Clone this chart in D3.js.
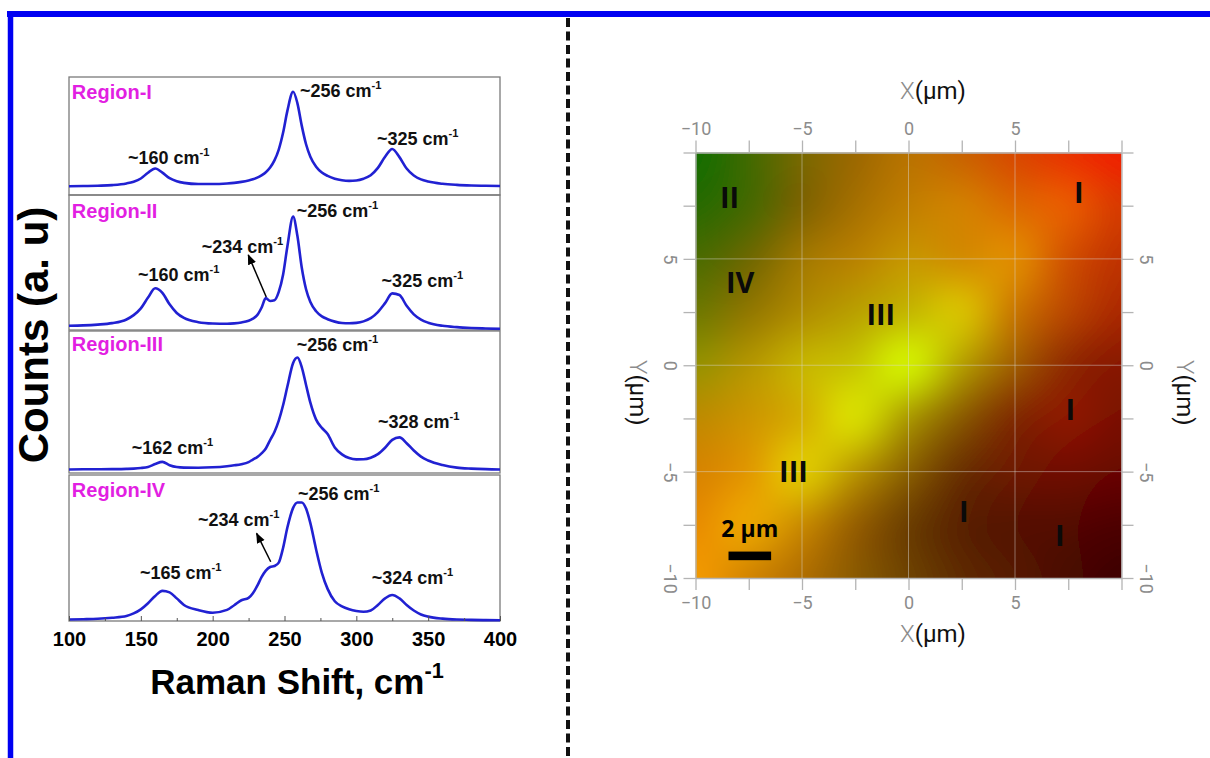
<!DOCTYPE html>
<html>
<head>
<meta charset="utf-8">
<script src="https://cdn.jsdelivr.net/npm/d3@7"></script>
<style>
  body { margin: 0; background: #fff; }
  svg { display: block; }
</style>
</head>
<body>
<svg id="fig" width="1210" height="758"></svg>
<script>
// ---- spectra data (Raman shift in cm-1, counts in a.u. scaled to each panel) ----
const shift = [100,110,120,130,140,145,150,155,160,165,170,175,180,190,200,210,215,220,225,228,231,234,237,240,243,246,249,252,256,259,262,265,268,272,276,280,285,290,295,300,305,310,315,320,325,330,335,340,345,350,360,370,380,390,400]

const countsI = [.074,.076,.079,.084,.098,.113,.140,.189,.225,.190,.143,.117,.103,.093,.093,.098,.103,.111,.123,.133,.147,.167,.193,.233,.293,.385,.527,.713,.875,.777,.588,.430,.324,.239,.190,.162,.138,.125,.120,.123,.138,.168,.230,.324,.390,.321,.224,.165,.132,.114,.095,.086,.081,.078,.076]
const countsII = [.032,.034,.040,.051,.078,.110,.160,.240,.309,.275,.190,.126,.089,.058,.048,.046,.049,.056,.069,.084,.110,.165,.236,.215,.220,.282,.409,.619,.840,.696,.463,.302,.208,.139,.101,.080,.062,.052,.050,.053,.064,.088,.133,.199,.271,.259,.179,.116,.077,.054,.031,.021,.015,.011,.008]
const countsIII = [.025,.026,.026,.027,.029,.031,.035,.043,.063,.078,.055,.042,.038,.037,.040,.048,.054,.062,.077,.095,.112,.138,.173,.232,.289,.369,.477,.609,.775,.813,.746,.620,.495,.376,.318,.275,.180,.131,.105,.096,.097,.108,.133,.178,.233,.251,.210,.158,.115,.088,.056,.038,.031,.027,.025]
const countsIV = [.010,.012,.015,.022,.034,.052,.080,.122,.172,.206,.196,.155,.110,.075,.057,.076,.108,.142,.158,.190,.240,.300,.345,.370,.377,.400,.500,.640,.775,.812,.812,.770,.670,.490,.330,.220,.135,.100,.080,.068,.063,.072,.110,.155,.178,.155,.110,.072,.045,.030,.016,.010,.008,.006,.005]

const regionNames = ["Region-I", "Region-II", "Region-III", "Region-IV"]
const peakNames = [[256, 160, 325], [256, 234, 160, 325], [256, 328, 162], [256, 234, 165, 324]]
const shiftTicks = [100, 150, 200, 250, 300, 350, 400]
const shiftMinor = [125, 175, 225, 275, 325, 375]

// ---- map data (RGB composite, rows y = 10 .. -10, cols x = -10 .. 10, step 2.5 um) ----
const mapX = [-10, -7.5, -5, -2.5, 0, 2.5, 5, 7.5, 10]
const mapY = [10, 7.5, 5, 2.5, 0, -2.5, -5, -7.5, -10]
const mapRed = [
  [20, 65, 120, 155, 184, 200, 216, 232, 240],
  [40, 70, 125, 165, 192, 210, 220, 232, 216],
  [75, 110, 160, 184, 198, 210, 224, 208, 192],
  [110, 145, 175, 185, 196, 216, 200, 185, 170],
  [150, 180, 198, 200, 210, 180, 160, 144, 136],
  [190, 205, 212, 216, 170, 138, 128, 140, 122],
  [215, 225, 224, 185, 138, 106, 110, 112, 104],
  [232, 234, 200, 150, 108, 90, 86, 84, 78],
  [243, 210, 176, 138, 110, 94, 86, 74, 62]
]
const mapGreen = [
  [110, 106, 104, 104, 114, 98, 72, 50, 32],
  [106, 104, 100, 112, 126, 128, 105, 90, 56],
  [108, 104, 120, 130, 150, 140, 138, 80, 50],
  [120, 120, 140, 160, 182, 192, 118, 70, 40],
  [145, 150, 180, 198, 238, 158, 92, 42, 24],
  [138, 150, 175, 220, 152, 90, 42, 24, 16],
  [132, 152, 200, 150, 96, 48, 26, 12, 6],
  [140, 165, 138, 95, 62, 34, 18, 8, 2],
  [154, 132, 110, 90, 66, 42, 26, 10, 0]
]
const mapTicks = [-10, -7.5, -5, -2.5, 0, 2.5, 5, 7.5, 10]
const mapLabelled = [-10, -5, 0, 5]
const mapGrid = [-5, 0, 5]
const zoneNames = ["II", "I", "IV", "III", "I", "III", "I", "I"]
const scaleBarLength = 2

// ---- layout ----
const W = 1210, H = 758
const specLeft = 69, specRight = 500
const panelTop = [77, 195, 331, 475]
const panelBottom = [195, 330, 473, 621]
// label anchors in data units [shift, fraction of panel]
const regionAt = [[102, .81], [102, .827], [102, .859], [102, .849]]
const peakAt = [
  [[260.8, .833], [141, .263], [314.4, .424]],
  [[258.5, .839], [192.4, .573], [148, .365], [317.6, .321]],
  [[258.5, .861], [315, .317], [143.6, .134]],
  [[259.4, .829], [189.8, .651], [149.4, .288], [310.7, .253]]
]
const arrowAt = [null, [[237.3, .244], [224.8, .556]], null, [[240.4, .406], [230.6, .60]]]
const zoneAt = [[-8.4, 7.9], [8.0, 8.1], [-7.9, 3.9], [-1.3, 2.4], [7.6, -2.1], [-5.4, -5.0], [2.6, -6.9], [7.1, -8.0]]

const svg = d3.select("#fig")
const defs = svg.append("defs")
const boldFont = "'Liberation Sans', Arial, sans-serif"

// blue frame and dashed divider
svg.append("line").attr("x1", 7).attr("x2", W).attr("y1", 14).attr("y2", 14)
  .attr("stroke", "#0000f2").attr("stroke-width", 6)
svg.append("line").attr("x1", 10.5).attr("x2", 10.5).attr("y1", 11).attr("y2", H)
  .attr("stroke", "#0000f2").attr("stroke-width", 5.5)
svg.append("line").attr("x1", 568).attr("x2", 568).attr("y1", 18).attr("y2", H)
  .attr("stroke", "#111").attr("stroke-width", 4).attr("stroke-dasharray", "9,4.5")

// ---------------- spectra ----------------
defs.append("marker").attr("id", "arrow").attr("viewBox", "0 0 10 10")
  .attr("refX", 9).attr("refY", 5).attr("markerWidth", 7).attr("markerHeight", 7)
  .attr("orient", "auto")
  .append("path").attr("d", "M0,1 L10,5 L0,9 Z").attr("fill", "#000")

const x = d3.scaleLinear().domain([100, 400]).range([specLeft, specRight])
const spectra = [countsI, countsII, countsIII, countsIV]

function cmLabel(sel, num) {
  sel.append("tspan").text(`~${num} cm`)
  sel.append("tspan").attr("font-size", "0.62em").attr("dy", "-0.7em").text("-1")
}

spectra.forEach((counts, i) => {
  const y = d3.scaleLinear().domain([0, 1]).range([panelBottom[i], panelTop[i]])
  const g = svg.append("g")

  g.append("rect")
    .attr("x", specLeft).attr("y", panelTop[i])
    .attr("width", specRight - specLeft).attr("height", panelBottom[i] - panelTop[i])
    .attr("fill", "none").attr("stroke", "#7a7a7a").attr("stroke-width", 1.3)

  const line = d3.line()
    .x(d => x(d[0]))
    .y(d => y(d[1]))
    .curve(d3.curveMonotoneX)

  g.append("path")
    .datum(shift.map((s, k) => [s, counts[k]]))
    .attr("d", line)
    .attr("fill", "none")
    .attr("stroke", "#2121d2")
    .attr("stroke-width", 2.6)

  g.append("text")
    .attr("x", x(regionAt[i][0])).attr("y", y(regionAt[i][1]))
    .attr("font-family", boldFont).attr("font-weight", "bold").attr("font-size", 20)
    .attr("fill", "#e21fe2")
    .text(regionNames[i])

  peakNames[i].forEach((p, k) => {
    g.append("text")
      .attr("x", x(peakAt[i][k][0])).attr("y", y(peakAt[i][k][1]))
      .attr("font-family", boldFont).attr("font-weight", "bold").attr("font-size", 18)
      .attr("fill", "#111")
      .call(cmLabel, p)
  })

  if (arrowAt[i]) {
    const [a, b] = arrowAt[i]
    g.append("line")
      .attr("x1", x(a[0])).attr("y1", y(a[1]))
      .attr("x2", x(b[0])).attr("y2", y(b[1]))
      .attr("stroke", "#000").attr("stroke-width", 1.5)
      .attr("marker-end", "url(#arrow)")
  }
})

const xAxis = svg.append("g")
  .attr("transform", `translate(0,${panelBottom[3]})`)
  .call(d3.axisBottom(x).tickValues(shiftTicks).tickSize(-5).tickPadding(11).tickFormat(d3.format("d")))
xAxis.select(".domain").remove()
xAxis.selectAll("line").attr("stroke", "#555")
xAxis.selectAll("text")
  .attr("font-family", boldFont).attr("font-weight", "bold").attr("font-size", 20).attr("fill", "#000")

const xMinor = svg.append("g")
  .attr("transform", `translate(0,${panelBottom[3]})`)
  .call(d3.axisBottom(x).tickValues(shiftMinor).tickSize(-3).tickFormat(""))
xMinor.select(".domain").remove()
xMinor.selectAll("line").attr("stroke", "#555")

svg.append("text")
  .attr("x", 297).attr("y", 694)
  .attr("text-anchor", "middle")
  .attr("font-family", boldFont).attr("font-weight", "bold").attr("font-size", 35)
  .attr("fill", "#000")
  .call(sel => {
    sel.append("tspan").text("Raman Shift, cm")
    sel.append("tspan").attr("font-size", "0.62em").attr("dy", "-0.75em").text("-1")
  })

svg.append("text")
  .attr("transform", "translate(48,335) rotate(-90)")
  .attr("text-anchor", "middle")
  .attr("font-family", boldFont).attr("font-weight", "bold").attr("font-size", 42)
  .attr("fill", "#000")
  .text("Counts (a. u)")

// ---------------- map ----------------
const mx = d3.scaleLinear().domain([-10, 10]).range([695.5, 1121.5])
const my = d3.scaleLinear().domain([-10, 10]).range([578, 152.5])
const gi = d3.scaleLinear().domain([mapX[0], mapX[mapX.length - 1]]).range([0, mapX.length - 1]).clamp(true)
const gj = d3.scaleLinear().domain([mapY[0], mapY[mapY.length - 1]]).range([0, mapY.length - 1]).clamp(true)

// smooth (Catmull-Rom) sampling of the colour grid
function cubic(p0, p1, p2, p3, t) {
  return 0.5 * (2 * p1 + (-p0 + p2) * t + (2 * p0 - 5 * p1 + 4 * p2 - p3) * t * t + (-p0 + 3 * p1 - 3 * p2 + p3) * t * t * t)
}
function sample(grid, fi, fj) {
  const ni = grid[0].length, nj = grid.length
  const i1 = Math.min(Math.floor(fi), ni - 2), j1 = Math.min(Math.floor(fj), nj - 2)
  const ti = fi - i1, tj = fj - j1
  const ci = k => Math.max(0, Math.min(ni - 1, k))
  const cj = k => Math.max(0, Math.min(nj - 1, k))
  const rows = [-1, 0, 1, 2].map(d => {
    const r = grid[cj(j1 + d)]
    return cubic(r[ci(i1 - 1)], r[ci(i1)], r[ci(i1 + 1)], r[ci(i1 + 2)], ti)
  })
  return Math.max(0, Math.min(255, cubic(rows[0], rows[1], rows[2], rows[3], tj)))
}

const pad = 30
const x0 = Math.floor(mx(-10)) - pad, y0 = Math.floor(my(10)) - pad
const cw = Math.ceil(mx(10)) + pad - x0, ch = Math.ceil(my(-10)) + pad - y0
const canvas = document.createElement("canvas")
canvas.width = cw; canvas.height = ch
const ctx = canvas.getContext("2d")
const img = ctx.createImageData(cw, ch)
for (let py = 0; py < ch; py++) {
  const fj = gj(my.invert(y0 + py + 0.5))
  for (let px = 0; px < cw; px++) {
    const fi = gi(mx.invert(x0 + px + 0.5))
    const o = (py * cw + px) * 4
    img.data[o] = sample(mapRed, fi, fj)
    img.data[o + 1] = sample(mapGreen, fi, fj)
    img.data[o + 2] = 0
    img.data[o + 3] = 255
  }
}
ctx.putImageData(img, 0, 0)

defs.append("filter").attr("id", "soft").attr("x", "-5%").attr("y", "-5%").attr("width", "110%").attr("height", "110%")
  .append("feGaussianBlur").attr("stdDeviation", 7)
defs.append("clipPath").attr("id", "mapClip")
  .append("rect").attr("x", mx(-10)).attr("y", my(10))
  .attr("width", mx(10) - mx(-10)).attr("height", my(-10) - my(10))

svg.append("g").attr("clip-path", "url(#mapClip)")
  .append("image")
  .attr("href", canvas.toDataURL())
  .attr("x", x0).attr("y", y0).attr("width", cw).attr("height", ch)
  .attr("preserveAspectRatio", "none")
  .attr("filter", "url(#soft)")

// faint grid
const grid = svg.append("g").attr("stroke", "#dcdcdc").attr("stroke-opacity", 0.45).attr("stroke-width", 1)
mapGrid.forEach(v => {
  grid.append("line").attr("x1", mx(v)).attr("x2", mx(v)).attr("y1", my(10)).attr("y2", my(-10))
  grid.append("line").attr("y1", my(v)).attr("y2", my(v)).attr("x1", mx(-10)).attr("x2", mx(10))
})

const tickFmt = d => (mapLabelled.includes(d) ? d3.format("d")(d) : "")
const tickFont = "Roboto, 'Liberation Sans', sans-serif"

function styleAxis(g) {
  g.select(".domain").attr("stroke", "#b4b4b4").attr("stroke-width", 1.3)
  g.selectAll(".tick line").attr("stroke", "#b4b4b4").attr("stroke-width", 1.3)
  g.selectAll("text").attr("font-family", tickFont).attr("font-size", 18).attr("fill", "#8c8c8c")
}

svg.append("g").attr("transform", `translate(0,${my(10)})`)
  .call(d3.axisTop(mx).tickValues(mapTicks).tickSize(12).tickSizeOuter(0).tickPadding(6).tickFormat(tickFmt))
  .call(styleAxis)
svg.append("g").attr("transform", `translate(0,${my(-10)})`)
  .call(d3.axisBottom(mx).tickValues(mapTicks).tickSize(12).tickSizeOuter(0).tickPadding(6).tickFormat(tickFmt))
  .call(styleAxis)

const leftAxis = svg.append("g").attr("transform", `translate(${mx(-10)},0)`)
  .call(d3.axisLeft(my).tickValues(mapTicks).tickSize(12).tickSizeOuter(0).tickFormat(tickFmt))
  .call(styleAxis)
leftAxis.selectAll("text")
  .attr("x", null).attr("dy", "0.35em").attr("text-anchor", "middle")
  .attr("transform", "translate(-25,0) rotate(90)")

const rightAxis = svg.append("g").attr("transform", `translate(${mx(10)},0)`)
  .call(d3.axisRight(my).tickValues(mapTicks).tickSize(12).tickSizeOuter(0).tickFormat(tickFmt))
  .call(styleAxis)
rightAxis.selectAll("text")
  .attr("x", null).attr("dy", "0.35em").attr("text-anchor", "middle")
  .attr("transform", "translate(25,0) rotate(90)")

function unitTitle(sel, letter) {
  sel.attr("font-family", tickFont).attr("font-size", 24)
  sel.append("tspan").attr("fill", "#8c8c8c").attr("font-weight", 300).text(letter)
  sel.append("tspan").attr("fill", "#111").text("(μm)")
}
svg.append("text").attr("x", 900).attr("y", 99).call(unitTitle, "X")
svg.append("text").attr("x", 900).attr("y", 642).call(unitTitle, "X")
svg.append("text").attr("transform", "translate(638,360) rotate(90)").attr("dy", "0.35em").call(unitTitle, "Y")
svg.append("text").attr("transform", "translate(1185,360) rotate(90)").attr("dy", "0.35em").call(unitTitle, "Y")

// zone labels
const mapFont = "'Open Sans', 'DejaVu Sans', sans-serif"
zoneNames.forEach((z, k) => {
  svg.append("text")
    .attr("x", mx(zoneAt[k][0])).attr("y", my(zoneAt[k][1]))
    .attr("dy", "0.36em").attr("text-anchor", "middle")
    .attr("font-family", mapFont).attr("font-weight", 700).attr("font-size", 29)
    .attr("fill", "#0a0a0a")
    .text(z)
})

// scale bar
svg.append("rect")
  .attr("x", mx(-8.45)).attr("y", my(-8.96) - 4.3)
  .attr("width", mx(-8.45 + scaleBarLength) - mx(-8.45)).attr("height", 8.6)
  .attr("fill", "#000")
svg.append("text")
  .attr("x", mx(-8.45 + scaleBarLength / 2)).attr("y", my(-8.07))
  .attr("text-anchor", "middle")
  .attr("font-family", mapFont).attr("font-weight", 700).attr("font-size", 23)
  .attr("fill", "#000")
  .text(`${scaleBarLength} μm`)
</script>
</body>
</html>
